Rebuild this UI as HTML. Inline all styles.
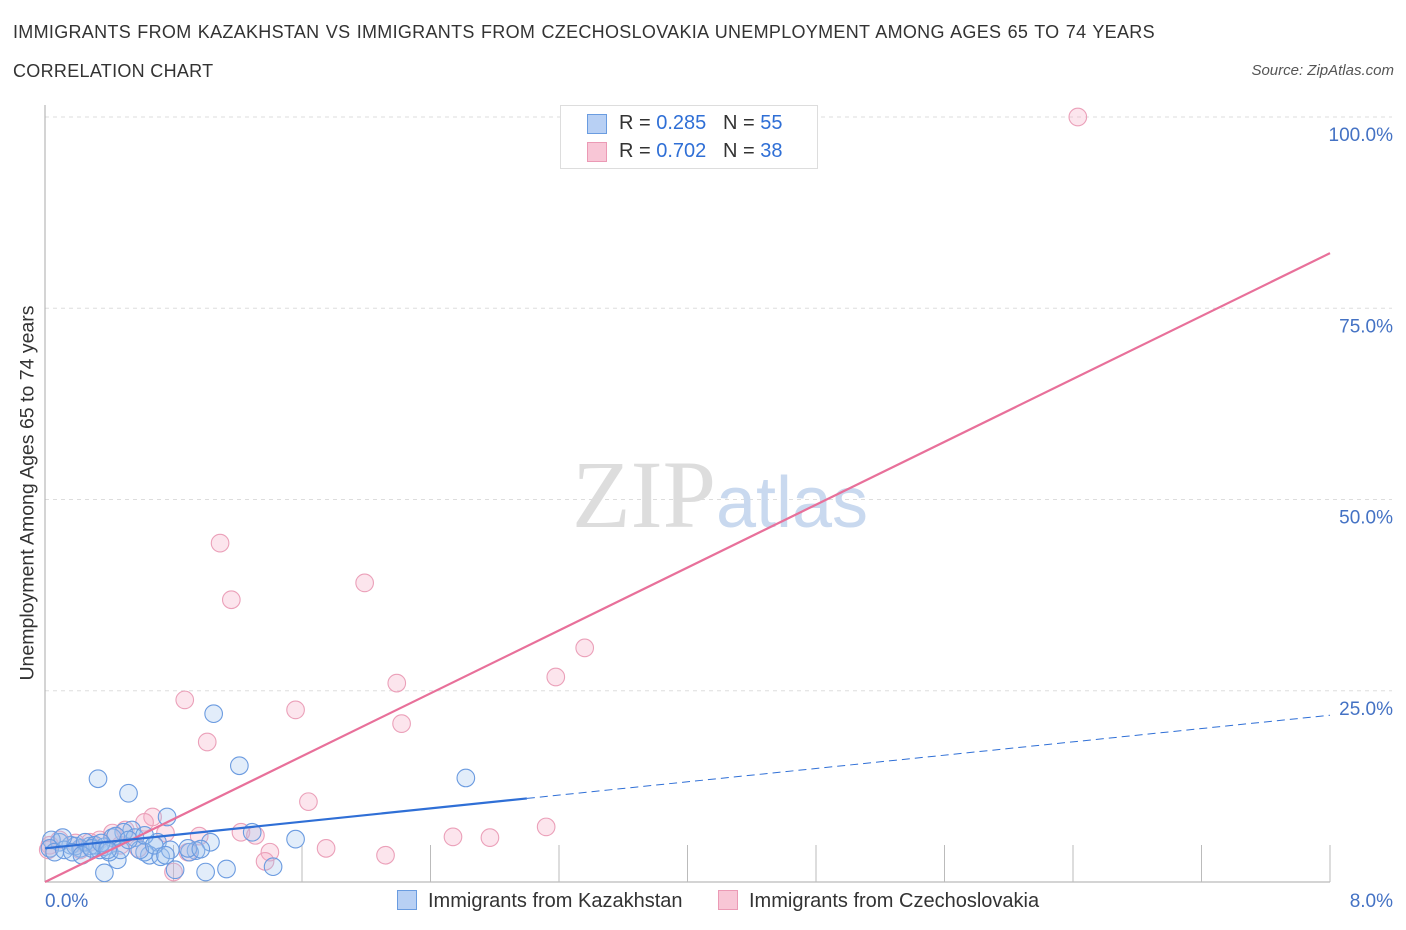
<!DOCTYPE html>
<html><head><meta charset="utf-8"><style>
body{margin:0;background:#fff;font-family:"Liberation Sans",sans-serif;}
#wrap{position:relative;width:1406px;height:930px;overflow:hidden;}
.t{position:absolute;white-space:nowrap;}
</style></head><body><div id="wrap">
<div class="t" style="left:13px;top:22px;font-size:18px;letter-spacing:0.3px;word-spacing:1px;color:#333;">IMMIGRANTS FROM KAZAKHSTAN VS IMMIGRANTS FROM CZECHOSLOVAKIA UNEMPLOYMENT AMONG AGES 65 TO 74 YEARS</div>
<div class="t" style="left:13px;top:61px;font-size:18px;letter-spacing:0.3px;color:#333;">CORRELATION CHART</div>
<div class="t" style="right:12px;top:62px;font-size:15px;color:#555;font-style:italic;">Source: ZipAtlas.com</div>
<svg id="svg" width="1406" height="930" style="position:absolute;left:0;top:0"></svg>
</div>
<script>
const blueX=[0.33,0.52,1.05,1.21,2.62,0.76,1.56,1.29,1.03,0.45,0.37,1.00,1.13,1.42,0.81,0.94,0.90,0.70,0.65,0.62,0.54,0.49,0.42,0.34,0.28,0.22,0.16,0.09,0.04,0.03,0.06,0.12,0.19,0.25,0.31,0.37,0.44,0.56,0.59,0.72,0.78,0.40,0.47,0.11,0.17,0.23,0.29,0.35,0.39,0.52,0.62,0.68,0.75,0.89,0.97];
const blueY=[13.5,11.6,22.0,15.2,13.6,8.5,5.6,6.5,5.2,2.9,1.2,1.3,1.7,2.0,1.6,4.1,3.9,5.2,3.5,3.9,6.8,6.5,5.8,4.2,4.7,4.4,4.8,5.2,5.5,4.4,3.9,4.2,4.7,5.2,4.8,4.6,6.0,5.8,4.2,3.3,4.2,3.9,4.2,5.8,3.9,3.5,4.4,5.1,4.2,5.5,6.1,4.8,3.5,4.4,4.3];
const pinkX=[6.43,1.09,1.16,1.99,3.36,3.18,2.19,0.87,1.56,2.22,1.01,1.64,0.67,3.12,2.54,2.77,1.75,2.12,1.40,1.37,1.22,1.31,0.96,0.89,0.75,0.62,0.50,0.42,0.34,0.28,0.19,0.09,0.03,0.02,0.58,0.80,0.47,0.22];
const pinkY=[100,44.3,36.9,39.1,30.6,26.8,26.0,23.8,22.5,20.7,18.3,10.5,8.5,7.2,5.9,5.8,4.4,3.5,3.9,2.7,6.5,6.1,6.0,3.9,6.4,7.8,6.8,6.4,5.5,5.2,5.1,5.5,4.8,4.2,4.4,1.3,4.8,4.2];
const yTicks=[25,50,75,100];
const yTickLabels=["25.0%","50.0%","75.0%","100.0%"];
const blueTrend=[4.4,21.8];
const pinkTrend=[0,82.2];
const X=v=>45+v*160.625, Y=v=>882-v*7.65;
const svg=document.getElementById('svg'),NS='http://www.w3.org/2000/svg';
function mk(t,a,p){const e=document.createElementNS(NS,t);for(const k in a)e.setAttribute(k,a[k]);(p||svg).appendChild(e);return e;}
yTicks.forEach((v,i)=>{
 const g=mk('line',{x1:45,x2:1392,y1:Y(v),y2:Y(v),stroke:'#ddd','stroke-dasharray':'4,4'});
 
 
 const t=mk('text',{x:1393,y:Y(v)+24,'text-anchor':'end','font-size':19,fill:'#4472c4'});
 t.textContent=yTickLabels[i];
 
 
});
const ax=mk('line',{x1:45,x2:45,y1:105,y2:882,stroke:'#aaa'});


const bx=mk('line',{x1:45,x2:1330,y1:882,y2:882,stroke:'#aaa'});


for(let i=1;i<=10;i++){const l=mk('line',{x1:X(i*0.8),x2:X(i*0.8),y1:845,y2:882,stroke:'#bbb'});
 
 }
const wm=mk('text',{x:720,y:527,'text-anchor':'middle','font-size':96,'font-family':'Liberation Serif',fill:'#ddd'});wm.innerHTML='ZIP<tspan fill="#c9d9ef" font-family="Liberation Sans" font-size="72">atlas</tspan>';


function dots(xs,ys,fill,stroke,name){xs.forEach((x,i)=>{const c=mk('circle',{cx:X(x),cy:Y(ys[i]),r:8.8,fill:fill,stroke:stroke,'stroke-width':1.1});
 
 });}
dots(pinkX,pinkY,'rgba(246,170,195,0.3)','#eba0b9','point-czechoslovakia');
dots(blueX,blueY,'rgba(160,196,240,0.3)','#6b9be0','point-kazakhstan');
const pl=mk('line',{x1:X(0),y1:Y(pinkTrend[0]),x2:X(8),y2:Y(pinkTrend[1]),stroke:'#e8709a','stroke-width':2.2});


const bv=v=>blueTrend[0]+(blueTrend[1]-blueTrend[0])*v/8;
const bl=mk('line',{x1:X(0),y1:Y(bv(0)),x2:X(3),y2:Y(bv(3)),stroke:'#2f6fd6','stroke-width':2.2});


const bd=mk('line',{x1:X(3),y1:Y(bv(3)),x2:X(8),y2:Y(bv(8)),stroke:'#2f6fd6','stroke-width':1,'stroke-dasharray':'8,5'});


</script>
<div class="t" style="left:28px;top:493px;font-size:19.5px;color:#333;transform:translate(-50%,-50%) rotate(-90deg);">Unemployment Among Ages 65 to 74 years</div>
<div class="t" style="left:45px;top:891px;font-size:19px;color:#4472c4;">0.0%</div>
<div class="t" style="right:13px;top:891px;font-size:19px;color:#4472c4;">8.0%</div>
<div style="position:absolute;left:560px;top:105px;width:256px;height:62px;border:1px solid #ddd;background:#fff;font-size:20px;color:#333;">
 <div style="position:absolute;left:26px;top:8px;width:18px;height:18px;background:#b8d0f4;border:1px solid #6a9ce0;"></div>
 <div class="t" style="left:58px;top:6px;">R = <span style="color:#2f6fd6">0.285</span>&nbsp;&nbsp;&nbsp;N = <span style="color:#2f6fd6">55</span></div>
 <div style="position:absolute;left:26px;top:36px;width:18px;height:18px;background:#f8c6d6;border:1px solid #eb9ab5;"></div>
 <div class="t" style="left:58px;top:34px;">R = <span style="color:#2f6fd6">0.702</span>&nbsp;&nbsp;&nbsp;N = <span style="color:#2f6fd6">38</span></div>
</div>
<div style="position:absolute;left:397px;top:890px;font-size:20px;color:#333;">
 <span style="display:inline-block;width:18px;height:18px;background:#b8d0f4;border:1px solid #6a9ce0;vertical-align:-3px;margin-right:11px;"></span>Immigrants from Kazakhstan</div>
<div style="position:absolute;left:718px;top:890px;font-size:20px;color:#333;">
 <span style="display:inline-block;width:18px;height:18px;background:#f8c6d6;border:1px solid #eb9ab5;vertical-align:-3px;margin-right:11px;"></span>Immigrants from Czechoslovakia</div>
</body></html>
